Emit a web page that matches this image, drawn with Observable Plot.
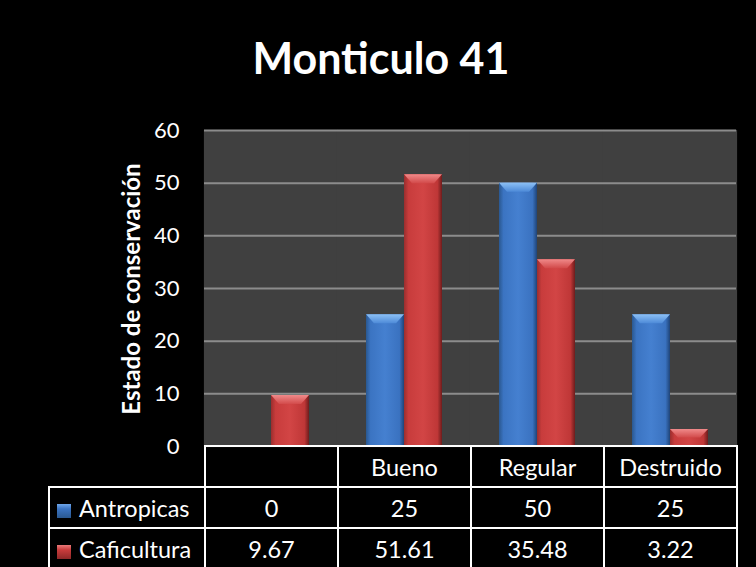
<!DOCTYPE html>
<html><head><meta charset="utf-8">
<script src="https://cdn.jsdelivr.net/npm/d3@7"></script>
<script src="https://cdn.jsdelivr.net/npm/@observablehq/plot@0.6"></script>
<style>
html,body{margin:0;padding:0;background:#000;}
#wrap{position:relative;width:756px;height:567px;overflow:hidden;background:#000;font-family:Lato,"Open Sans",sans-serif;}
#title{position:absolute;left:0;top:36px;width:762px;text-align:center;color:#fff;font-weight:bold;font-size:43px;line-height:43px;}
#ylab{position:absolute;left:130px;top:289px;transform:translate(-50%,-50%) rotate(-90deg);color:#fff;font-weight:bold;font-size:24px;white-space:nowrap;}
#chart{position:absolute;left:0;top:0;}
#tbl{position:absolute;left:48px;top:445px;border-collapse:collapse;table-layout:fixed;color:#fff;font-size:23.5px;}
#tbl td{border:2px solid #fff;text-align:center;padding:0;white-space:nowrap;}
#tbl td.blank{border-top:none;border-left:none;}
#tbl td.leg{text-align:left;padding-left:7px;}
.sw{display:inline-block;width:14px;height:14px;margin-right:8px;vertical-align:-1px;}
</style></head>
<body>
<div id="wrap">
  <div id="chart"></div>
  <div id="title"></div>
  <div id="ylab"></div>
  <table id="tbl"></table>
</div>
<script>
const titleText = "Monticulo 41";
const yLabel = "Estado de conservación";
const categories = ["", "Bueno", "Regular", "Destruido"];
const seriesNames = ["Antropicas", "Caficultura"];
const antropicas = [0, 25, 50, 25];
const caficultura = [9.67, 51.61, 35.48, 3.22];
const tableLabels = {Antropicas: ["0", "25", "50", "25"], Caficultura: ["9.67", "51.61", "35.48", "3.22"]};
const yTicks = [0, 10, 20, 30, 40, 50, 60];

const data = [];
categories.forEach((c, i) => {
  data.push({cat: c, series: seriesNames[0], value: antropicas[i]});
  data.push({cat: c, series: seriesNames[1], value: caficultura[i]});
});

document.getElementById("title").textContent = titleText;
document.getElementById("ylab").textContent = yLabel;

const plot = Plot.plot({
  width: 756,
  height: 567,
  marginLeft: 204,
  marginRight: 20,
  marginTop: 130,
  marginBottom: 121,
  style: {background: "transparent", color: "white", fontFamily: "Lato, 'Open Sans', sans-serif"},
  fx: {domain: categories, padding: 0, axis: null},
  x: {domain: seriesNames, paddingInner: 0, paddingOuter: 0.75, axis: null},
  y: {domain: [0, 60], axis: null},
  marks: [
    Plot.frame({fill: "#404040", stroke: null, inset: -0.6}),
    Plot.ruleY(yTicks.filter(t => t > 0), {stroke: "#8c8c8c", strokeWidth: 2}),
    Plot.axisY({ticks: yTicks, tickSize: 0, tickPadding: 25, fontSize: 22, fill: "white", stroke: "#8c8c8c", strokeWidth: 2, line: true, label: null}),
    Plot.barY(data.filter(d => d.series === seriesNames[0]), {fx: "cat", x: "series", y: "value", fill: "url(#gA)", className: "bevA"}),
    Plot.barY(data.filter(d => d.series === seriesNames[1]), {fx: "cat", x: "series", y: "value", fill: "url(#gC)", className: "bevC"})
  ]
});

const svg = d3.select(plot);
const defs = svg.insert("defs", ":first-child");
function grad(id, stops, vertical) {
  const g = defs.append("linearGradient").attr("id", id).attr("x1", "0").attr("x2", vertical ? "0" : "1").attr("y1", "0").attr("y2", vertical ? "1" : "0");
  stops.forEach(([o, c]) => g.append("stop").attr("offset", o).attr("stop-color", c));
}
grad("gA", [[0, "#2a5890"], [0.12, "#3b74c2"], [0.5, "#4580d0"], [0.88, "#3a72c0"], [1, "#1f4478"]]);
grad("gC", [[0, "#9a2e2e"], [0.12, "#c83c3c"], [0.5, "#d24545"], [0.88, "#bf3737"], [1, "#6e1c1c"]]);
grad("tA", [[0, "#8cc0f5"], [1, "#4d8ad8"]], true);
grad("tC", [[0, "#f08a8a"], [1, "#d24a4a"]], true);

// top bevel drawn from each rendered bar rectangle
[["bevA", "url(#tA)"], ["bevC", "url(#tC)"]].forEach(([cls, fill]) => {
  svg.selectAll("g." + cls + " rect").each(function () {
    const r = d3.select(this);
    const x = +r.attr("x"), y = +r.attr("y"), w = +r.attr("width"), h = +r.attr("height");
    if (!(h > 2)) return;
    const b = Math.min(9, h / 2), s = Math.min(8, w / 4);
    d3.select(this.parentNode).append("polygon")
      .attr("points", [[x, y], [x + w, y], [x + w - s, y + b], [x + s, y + b]].map(p => p.join(",")).join(" "))
      .attr("fill", fill);
  });
});
document.getElementById("chart").appendChild(plot);

// data table
const tbl = d3.select("#tbl");
const cg = tbl.append("colgroup");
cg.append("col").style("width", "156px");
categories.forEach(() => cg.append("col").style("width", "133px"));
const hdr = tbl.append("tr").style("height", "41px");
hdr.append("td").attr("class", "blank");
categories.forEach(c => hdr.append("td").text(c));
const swatch = {Antropicas: "linear-gradient(to bottom,#6fa6ea,#3b74c2 35%,#2a5890)", Caficultura: "linear-gradient(to bottom,#ea7a7a,#c83c3c 35%,#8e2828)"};
seriesNames.forEach(s => {
  const tr = tbl.append("tr").style("height", "41px");
  const td = tr.append("td").attr("class", "leg");
  td.append("span").attr("class", "sw").style("background", swatch[s]);
  td.append("span").text(s);
  tableLabels[s].forEach(v => tr.append("td").text(v));
});
</script>
</body></html>
